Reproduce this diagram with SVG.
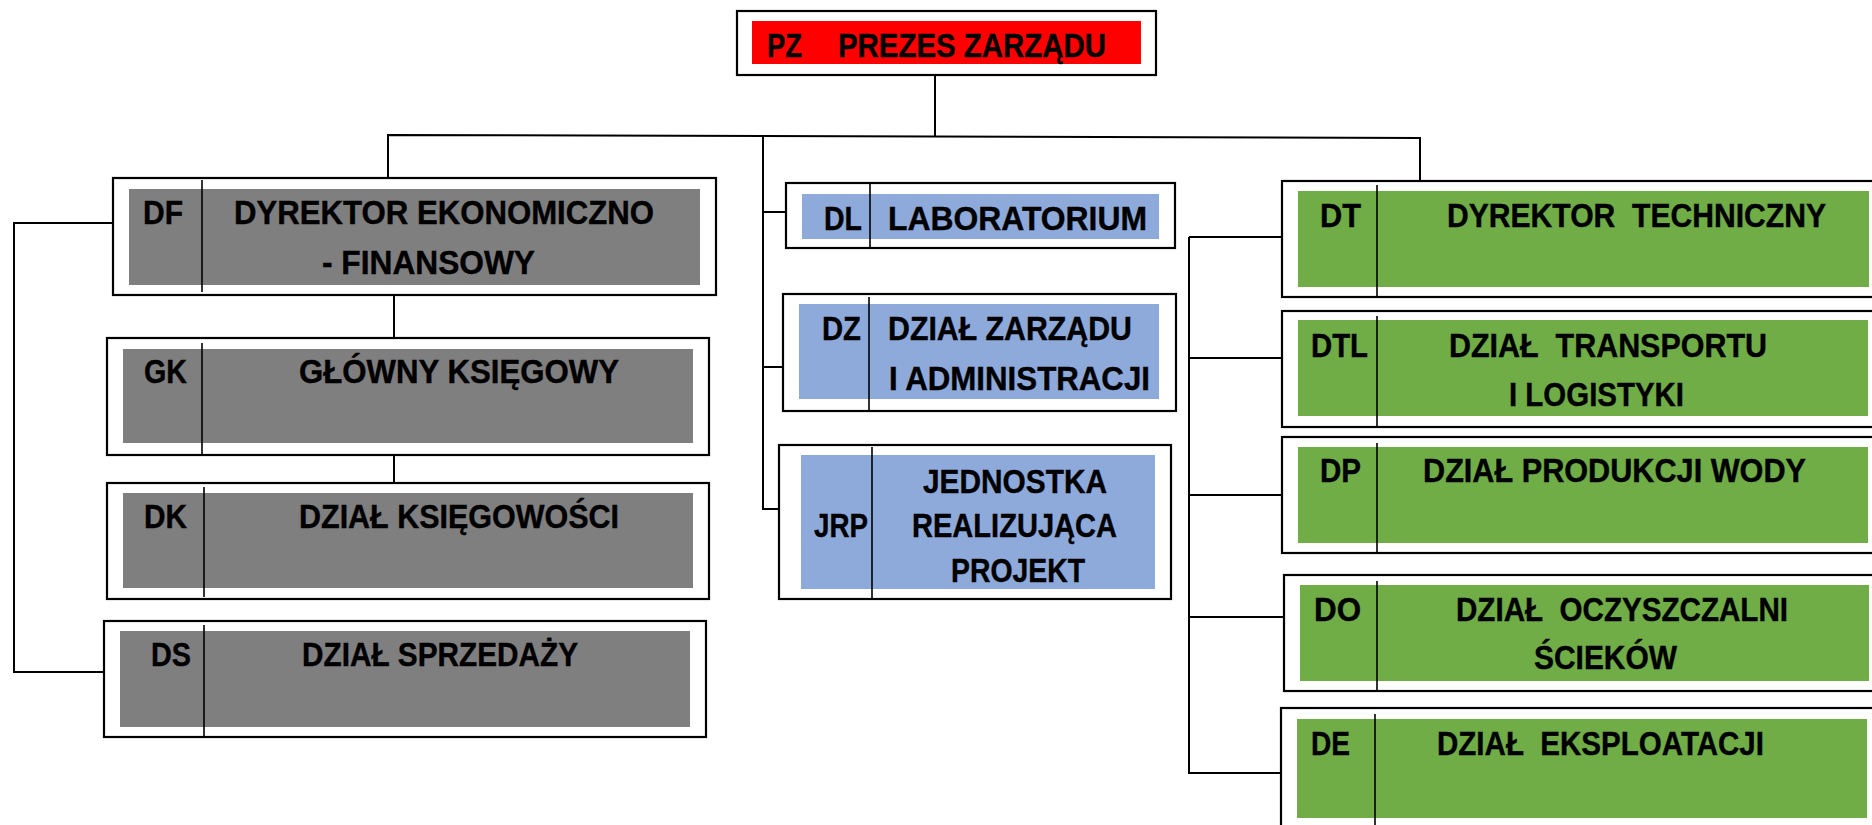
<svg xmlns="http://www.w3.org/2000/svg" width="1872" height="825" viewBox="0 0 1872 825">
<style>
.o{fill:#fff;stroke:#000;stroke-width:2.2}
.g{fill:#7f7f7f}
.b{fill:#8eaadb}
.gr{fill:#70ad47}
.r{fill:#ff0000}
.d{stroke:#000;stroke-width:1.6;fill:none}
.c{stroke:#000;stroke-width:2;fill:none}
text{font-family:"Liberation Sans",Arial,sans-serif;font-weight:bold;font-size:33px;fill:#000;stroke:#000;stroke-width:0.4;white-space:pre}
</style>
<rect width="1872" height="825" fill="#fff"/>
<g id="connectors">
<polyline class="c" points="935,75 935,137"/>
<polyline class="c" points="388,178 388,135 1420,138 1420,181"/>
<polyline class="c" points="394,295 394,338"/>
<polyline class="c" points="394,455 394,483"/>
<polyline class="c" points="113,223 14,223 14,672 104,672"/>
<polyline class="c" points="763,136 763,509 779,509"/>
<polyline class="c" points="763,212 786,212"/>
<polyline class="c" points="763,367 783,367"/>
<polyline class="c" points="1189,237 1189,774"/>
<polyline class="c" points="1189,237 1282,237"/>
<polyline class="c" points="1189,358 1282,358"/>
<polyline class="c" points="1189,495 1282,495"/>
<polyline class="c" points="1189,617 1284,617"/>
<polyline class="c" points="1189,773 1281,773"/>
</g>
<g id="PZ">
<rect class="o" x="737" y="11" width="419" height="64"/>
<rect class="r" x="752" y="21" width="389" height="43"/>
<text x="767" y="57" textLength="35" lengthAdjust="spacingAndGlyphs">PZ</text>
<text x="838" y="57" textLength="268" lengthAdjust="spacingAndGlyphs">PREZES ZARZĄDU</text>
</g>
<g id="DF">
<rect class="o" x="113" y="178" width="603" height="117"/>
<rect class="g" x="129" y="189" width="571" height="96"/>
<line class="d" x1="202" y1="180" x2="202" y2="292"/>
<text x="143" y="224" textLength="40" lengthAdjust="spacingAndGlyphs">DF</text>
<text x="234" y="224" textLength="420" lengthAdjust="spacingAndGlyphs">DYREKTOR EKONOMICZNO</text>
<text x="322" y="274" textLength="213" lengthAdjust="spacingAndGlyphs">- FINANSOWY</text>
</g>
<g id="GK">
<rect class="o" x="107" y="338" width="602" height="117"/>
<rect class="g" x="123" y="349" width="570" height="94"/>
<line class="d" x1="202" y1="343" x2="202" y2="454"/>
<text x="144" y="383" textLength="43" lengthAdjust="spacingAndGlyphs">GK</text>
<text x="299" y="383" textLength="320" lengthAdjust="spacingAndGlyphs">GŁÓWNY KSIĘGOWY</text>
</g>
<g id="DK">
<rect class="o" x="107" y="483" width="602" height="116"/>
<rect class="g" x="123" y="493" width="570" height="95"/>
<line class="d" x1="204" y1="487" x2="204" y2="597"/>
<text x="144" y="528" textLength="43" lengthAdjust="spacingAndGlyphs">DK</text>
<text x="299" y="528" textLength="320" lengthAdjust="spacingAndGlyphs">DZIAŁ KSIĘGOWOŚCI</text>
</g>
<g id="DS">
<rect class="o" x="104" y="621" width="602" height="116"/>
<rect class="g" x="120" y="631" width="570" height="96"/>
<line class="d" x1="204" y1="625" x2="204" y2="736"/>
<text x="151" y="666" textLength="40" lengthAdjust="spacingAndGlyphs">DS</text>
<text x="302" y="666" textLength="276" lengthAdjust="spacingAndGlyphs">DZIAŁ SPRZEDAŻY</text>
</g>
<g id="DL">
<rect class="o" x="786" y="183" width="389" height="65"/>
<rect class="b" x="802" y="194" width="357" height="45"/>
<line class="d" x1="870" y1="183" x2="870" y2="247"/>
<text x="824" y="230" textLength="38" lengthAdjust="spacingAndGlyphs">DL</text>
<text x="888" y="230" textLength="259" lengthAdjust="spacingAndGlyphs">LABORATORIUM</text>
</g>
<g id="DZ">
<rect class="o" x="783" y="294" width="393" height="117"/>
<rect class="b" x="799" y="304" width="360" height="95"/>
<line class="d" x1="869" y1="297" x2="869" y2="411"/>
<text x="822" y="340" textLength="39" lengthAdjust="spacingAndGlyphs">DZ</text>
<text x="888" y="340" textLength="244" lengthAdjust="spacingAndGlyphs">DZIAŁ ZARZĄDU</text>
<text x="889" y="390" textLength="261" lengthAdjust="spacingAndGlyphs">I ADMINISTRACJI</text>
</g>
<g id="JRP">
<rect class="o" x="779" y="445" width="392" height="154"/>
<rect class="b" x="801" y="455" width="354" height="134"/>
<line class="d" x1="872" y1="447" x2="872" y2="600"/>
<text x="814" y="537" textLength="54" lengthAdjust="spacingAndGlyphs">JRP</text>
<text x="923" y="493" textLength="184" lengthAdjust="spacingAndGlyphs">JEDNOSTKA</text>
<text x="912" y="537" textLength="205" lengthAdjust="spacingAndGlyphs">REALIZUJĄCA</text>
<text x="951" y="582" textLength="134" lengthAdjust="spacingAndGlyphs">PROJEKT</text>
</g>
<g id="DT">
<rect class="o" x="1282" y="181" width="600" height="116"/>
<rect class="gr" x="1298" y="191" width="571" height="96"/>
<line class="d" x1="1377" y1="185" x2="1377" y2="296"/>
<text x="1320" y="227" textLength="41" lengthAdjust="spacingAndGlyphs">DT</text>
<text x="1447" y="227" textLength="379" lengthAdjust="spacingAndGlyphs">DYREKTOR  TECHNICZNY</text>
</g>
<g id="DTL">
<rect class="o" x="1282" y="311" width="600" height="116"/>
<rect class="gr" x="1298" y="320" width="570" height="96"/>
<line class="d" x1="1377" y1="316" x2="1377" y2="427"/>
<text x="1311" y="357" textLength="57" lengthAdjust="spacingAndGlyphs">DTL</text>
<text x="1449" y="357" textLength="318" lengthAdjust="spacingAndGlyphs">DZIAŁ  TRANSPORTU</text>
<text x="1509" y="406" textLength="175" lengthAdjust="spacingAndGlyphs">I LOGISTYKI</text>
</g>
<g id="DP">
<rect class="o" x="1282" y="437" width="600" height="116"/>
<rect class="gr" x="1298" y="447" width="570" height="96"/>
<line class="d" x1="1377" y1="443" x2="1377" y2="554"/>
<text x="1320" y="482" textLength="41" lengthAdjust="spacingAndGlyphs">DP</text>
<text x="1423" y="482" textLength="383" lengthAdjust="spacingAndGlyphs">DZIAŁ PRODUKCJI WODY</text>
</g>
<g id="DO">
<rect class="o" x="1284" y="575" width="600" height="116"/>
<rect class="gr" x="1300" y="585" width="569" height="96"/>
<line class="d" x1="1377" y1="581" x2="1377" y2="690"/>
<text x="1314" y="621" textLength="47" lengthAdjust="spacingAndGlyphs">DO</text>
<text x="1456" y="621" textLength="332" lengthAdjust="spacingAndGlyphs">DZIAŁ  OCZYSZCZALNI</text>
<text x="1534" y="669" textLength="143" lengthAdjust="spacingAndGlyphs">ŚCIEKÓW</text>
</g>
<g id="DE">
<rect class="o" x="1281" y="708" width="600" height="130"/>
<rect class="gr" x="1297" y="719" width="570" height="99"/>
<line class="d" x1="1375" y1="714" x2="1375" y2="825"/>
<text x="1311" y="755" textLength="39" lengthAdjust="spacingAndGlyphs">DE</text>
<text x="1437" y="755" textLength="327" lengthAdjust="spacingAndGlyphs">DZIAŁ  EKSPLOATACJI</text>
</g>
</svg>
